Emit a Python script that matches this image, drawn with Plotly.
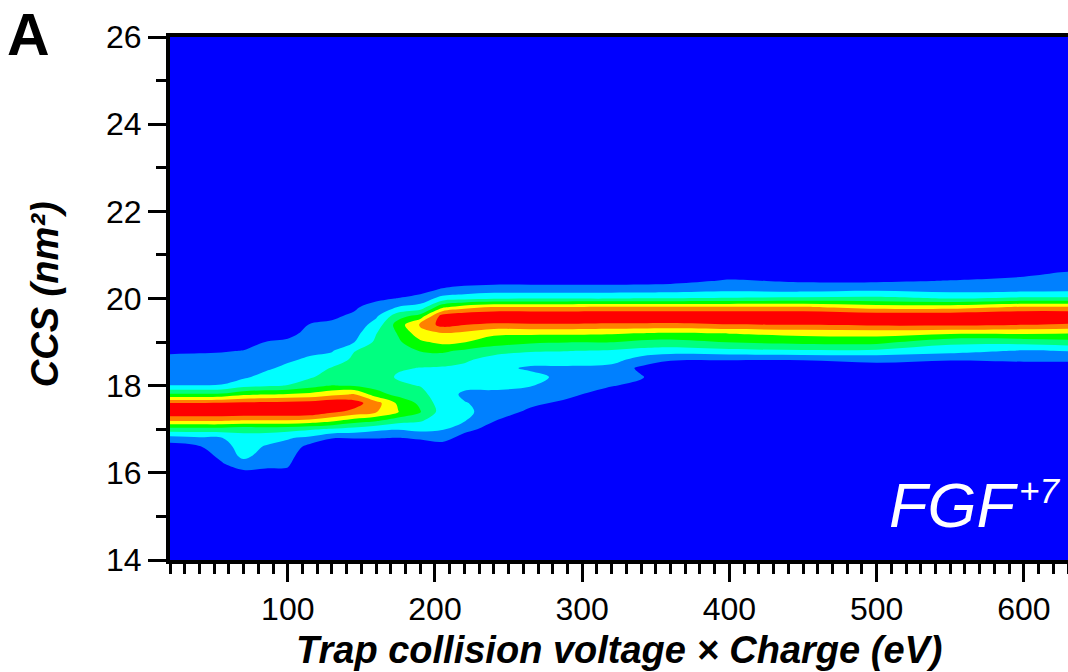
import numpy as np
import plotly.graph_objects as go

# Trap collision voltage x charge (eV) at each measured column
energy_ev = [20, 40, 55, 70, 85, 100, 115, 130, 145, 160, 175, 190, 205,
             220, 240, 265, 290, 320, 340, 360, 400, 450, 500, 550, 600, 630]
# CCS grid (nm^2)
ccs_nm2 = [15.8, 16.0, 16.2, 16.4, 16.6, 16.8, 17.0, 17.2, 17.4, 17.6, 17.8,
           18.0, 18.2, 18.4, 18.6, 18.8, 19.0, 19.2, 19.4, 19.6, 19.8, 20.0,
           20.2, 20.4, 20.6, 20.8, 21.0]

# normalised intensity profiles (one per energy column, bottom -> top in CCS)
int_020 = [0, 0, 0.01, 0.02, 0.06, 0.203, 0.446, 0.766, 0.99, 0.882, 0.521, 0.252, 0.216, 0.193, 0.149, 0.11, 0.08, 0.05, 0.03, 0.02, 0.01, 0.01, 0, 0, 0, 0, 0]
int_040 = [0, 0.01, 0.02, 0.06, 0.115, 0.23, 0.446, 0.766, 0.99, 0.882, 0.521, 0.252, 0.216, 0.193, 0.15, 0.115, 0.08, 0.05, 0.03, 0.02, 0.01, 0.01, 0, 0, 0, 0, 0]
int_055 = [0.02, 0.06, 0.11, 0.16, 0.2, 0.245, 0.446, 0.766, 0.99, 0.885, 0.525, 0.255, 0.218, 0.195, 0.155, 0.118, 0.085, 0.05, 0.03, 0.02, 0.01, 0.01, 0, 0, 0, 0, 0]
int_070 = [0.04, 0.09, 0.2, 0.285, 0.3, 0.32, 0.42, 0.74, 0.99, 0.9, 0.6, 0.33, 0.23, 0.2, 0.16, 0.127, 0.09, 0.06, 0.04, 0.03, 0.02, 0.01, 0, 0, 0, 0, 0]
int_085 = [0.04, 0.1, 0.15, 0.2, 0.24, 0.3, 0.43, 0.74, 0.99, 0.91, 0.62, 0.36, 0.29, 0.23, 0.19, 0.16, 0.127, 0.08, 0.05, 0.03, 0.02, 0.01, 0, 0, 0, 0, 0]
int_100 = [0.04, 0.1, 0.14, 0.17, 0.21, 0.26, 0.42, 0.74, 0.99, 0.92, 0.64, 0.38, 0.31, 0.28, 0.23, 0.18, 0.14, 0.1, 0.06, 0.04, 0.02, 0.01, 0, 0, 0, 0, 0]
int_115 = [0, 0.01, 0.02, 0.04, 0.08, 0.22, 0.39, 0.72, 0.98, 0.93, 0.66, 0.45, 0.36, 0.31, 0.27, 0.22, 0.18, 0.15, 0.13, 0.08, 0.04, 0.02, 0.01, 0, 0, 0, 0]
int_130 = [0, 0, 0.01, 0.02, 0.05, 0.13, 0.36, 0.66, 0.9, 0.97, 0.72, 0.505, 0.43, 0.385, 0.3, 0.24, 0.2, 0.17, 0.14, 0.11, 0.06, 0.03, 0.01, 0, 0, 0, 0]
int_145 = [0, 0, 0.01, 0.02, 0.05, 0.13, 0.33, 0.57, 0.84, 0.93, 0.76, 0.49, 0.45, 0.42, 0.4, 0.37, 0.245, 0.2, 0.17, 0.14, 0.11, 0.05, 0.02, 0.01, 0, 0, 0]
int_160 = [0, 0, 0.01, 0.02, 0.05, 0.13, 0.28, 0.52, 0.76, 0.8, 0.56, 0.45, 0.44, 0.44, 0.43, 0.42, 0.4, 0.37, 0.3, 0.23, 0.17, 0.1, 0.05, 0.02, 0.01, 0, 0]
int_175 = [0, 0, 0.01, 0.02, 0.05, 0.12, 0.26, 0.43, 0.63, 0.6, 0.46, 0.4, 0.36, 0.39, 0.42, 0.45, 0.48, 0.51, 0.56, 0.45, 0.255, 0.13, 0.06, 0.02, 0.01, 0, 0]
int_190 = [0, 0, 0.01, 0.02, 0.06, 0.14, 0.29, 0.39, 0.51, 0.47, 0.42, 0.37, 0.35, 0.37, 0.44, 0.505, 0.6, 0.7, 0.77, 0.55, 0.3, 0.17, 0.08, 0.03, 0.01, 0, 0]
int_205 = [0, 0, 0.01, 0.03, 0.07, 0.17, 0.26, 0.3, 0.32, 0.31, 0.29, 0.3, 0.33, 0.36, 0.44, 0.52, 0.66, 0.74, 0.92, 0.93, 0.6, 0.3, 0.14, 0.05, 0.02, 0.01, 0]
int_220 = [0, 0, 0, 0.01, 0.02, 0.08, 0.16, 0.26, 0.28, 0.255, 0.235, 0.27, 0.3, 0.34, 0.4, 0.48, 0.63, 0.72, 0.88, 0.98, 0.7, 0.33, 0.17, 0.07, 0.02, 0.01, 0]
int_240 = [0, 0, 0, 0.01, 0.02, 0.04, 0.08, 0.13, 0.19, 0.22, 0.24, 0.26, 0.27, 0.27, 0.32, 0.43, 0.56, 0.65, 0.85, 1.0, 0.76, 0.36, 0.19, 0.08, 0.03, 0.01, 0]
int_265 = [0, 0, 0, 0, 0, 0.01, 0.03, 0.05, 0.1, 0.15, 0.2, 0.255, 0.27, 0.24, 0.28, 0.39, 0.52, 0.65, 0.86, 1.0, 0.76, 0.37, 0.19, 0.08, 0.03, 0.01, 0]
int_290 = [0, 0, 0, 0, 0, 0.01, 0.02, 0.03, 0.05, 0.1, 0.15, 0.2, 0.23, 0.24, 0.28, 0.38, 0.505, 0.65, 0.86, 1.0, 0.76, 0.37, 0.19, 0.08, 0.03, 0.01, 0]
int_320 = [0, 0, 0, 0, 0, 0, 0.01, 0.01, 0.02, 0.03, 0.07, 0.13, 0.17, 0.21, 0.3, 0.36, 0.505, 0.64, 0.85, 1.0, 0.77, 0.37, 0.19, 0.08, 0.03, 0.01, 0]
int_340 = [0, 0, 0, 0, 0, 0, 0, 0.01, 0.02, 0.03, 0.05, 0.1, 0.135, 0.1, 0.2, 0.33, 0.47, 0.62, 0.85, 1.0, 0.77, 0.38, 0.19, 0.085, 0.035, 0.015, 0]
int_360 = [0, 0, 0, 0, 0, 0, 0, 0.01, 0.01, 0.01, 0.02, 0.03, 0.04, 0.07, 0.134, 0.317, 0.455, 0.607, 0.847, 1.0, 0.768, 0.38, 0.197, 0.09, 0.04, 0.02, 0.01]
int_400 = [0, 0, 0, 0, 0, 0, 0, 0.01, 0.01, 0.01, 0.02, 0.03, 0.04, 0.07, 0.13, 0.34, 0.505, 0.63, 0.87, 1.0, 0.768, 0.39, 0.22, 0.14, 0.06, 0.02, 0.01]
int_450 = [0, 0, 0, 0, 0, 0, 0, 0.01, 0.01, 0.01, 0.02, 0.03, 0.04, 0.07, 0.13, 0.36, 0.54, 0.66, 0.88, 1.0, 0.768, 0.4, 0.21, 0.11, 0.05, 0.02, 0.01]
int_500 = [0, 0, 0, 0, 0, 0, 0, 0.01, 0.01, 0.01, 0.02, 0.03, 0.04, 0.08, 0.15, 0.35, 0.54, 0.67, 0.9, 0.98, 0.7, 0.41, 0.23, 0.11, 0.05, 0.02, 0.01]
int_550 = [0, 0, 0, 0, 0, 0, 0, 0.01, 0.01, 0.01, 0.02, 0.03, 0.04, 0.08, 0.13, 0.3, 0.41, 0.64, 0.9, 0.98, 0.7, 0.37, 0.2, 0.13, 0.07, 0.03, 0.01]
int_600 = [0, 0, 0, 0, 0, 0, 0, 0.01, 0.01, 0.01, 0.02, 0.03, 0.04, 0.08, 0.14, 0.24, 0.42, 0.64, 0.88, 1.0, 0.77, 0.4, 0.21, 0.15, 0.1, 0.04, 0.01]
int_630 = [0, 0, 0, 0, 0, 0, 0, 0.01, 0.01, 0.01, 0.02, 0.03, 0.04, 0.08, 0.14, 0.255, 0.45, 0.63, 0.86, 1.0, 0.77, 0.4, 0.22, 0.16, 0.13, 0.05, 0.01]

x_ticks = [100, 200, 300, 400, 500, 600]
y_ticks = [14, 16, 18, 20, 22, 24, 26]
band_colors = ["#0000FF", "#0080FF", "#00FFFF", "#00FF80",
               "#00FF00", "#FFFF00", "#FF8000", "#FF0000"]

columns = [int_020, int_040, int_055, int_070, int_085, int_100, int_115,
           int_130, int_145, int_160, int_175, int_190, int_205, int_220,
           int_240, int_265, int_290, int_320, int_340, int_360, int_400,
           int_450, int_500, int_550, int_600, int_630]
z = np.array(columns).T  # rows follow ccs_nm2, columns follow energy_ev

n = len(band_colors)
colorscale = []
for k, c in enumerate(band_colors):
    lo = max(0.0, (k - 0.5) / (n - 1))
    hi = min(1.0, (k + 0.5) / (n - 1))
    colorscale.append([lo, c])
    colorscale.append([hi, c])

FONT = "Liberation Sans, Arial, sans-serif"

fig = go.Figure()
fig.add_trace(go.Contour(
    x=energy_ev, y=ccs_nm2, z=z,
    autocontour=False,
    contours=dict(start=0.125, end=0.875, size=0.125,
                  coloring="fill", showlines=False),
    colorscale=colorscale, showscale=False,
    line=dict(width=0, smoothing=1),
    hoverinfo="skip",
))

axis_common = dict(
    ticks="outside", ticklen=18, tickwidth=3, tickcolor="black",
    showline=True, linewidth=4, linecolor="black",
    showgrid=False, zeroline=False,
    tickfont=dict(size=32, family=FONT, color="black"),
)

fig.update_layout(
    template="none",
    width=1068, height=672,
    margin=dict(l=170, r=0, t=37, b=112),
    paper_bgcolor="white",
    plot_bgcolor="#0000FF",
    showlegend=False,
    xaxis=dict(range=[20, 630], tickmode="array", tickvals=x_ticks,
               mirror=True,
               minor=dict(ticks="outside", ticklen=10, tickwidth=3,
                          tickcolor="black", dtick=10, tick0=0,
                          showgrid=False),
               **axis_common),
    yaxis=dict(range=[14, 26], tickmode="array", tickvals=y_ticks,
               minor=dict(ticks="outside", ticklen=10, tickwidth=3,
                          tickcolor="black", dtick=1, tick0=0,
                          showgrid=False),
               **axis_common),
    annotations=[
        dict(text="<b><i>Trap collision voltage × Charge (eV)</i></b>",
             xref="paper", yref="paper", x=0.5, y=-0.172,
             xanchor="center", yanchor="middle", showarrow=False,
             font=dict(size=38, family=FONT, color="black")),
        dict(text="<b><i>CCS (nm²)</i></b>",
             xref="paper", yref="paper", x=-0.139, y=0.5086,
             xanchor="center", yanchor="middle", showarrow=False,
             textangle=-90,
             font=dict(size=38, family=FONT, color="black")),
        dict(text="<b>A</b>",
             xref="paper", yref="paper", x=-0.184, y=1.0705,
             xanchor="left", yanchor="top", showarrow=False,
             font=dict(size=59, family=FONT, color="black")),
        dict(text="<i>FGF</i>",
             xref="paper", yref="paper", x=0.7984, y=0.106,
             xanchor="left", yanchor="middle", showarrow=False,
             font=dict(size=63, family=FONT, color="white")),
        dict(text="<i>+7</i>",
             xref="paper", yref="paper", x=0.9432, y=0.1329,
             xanchor="left", yanchor="middle", showarrow=False,
             font=dict(size=35, family=FONT, color="white")),
    ],
)

fig.write_html(
    "out.html",
    config={"displayModeBar": False},
    post_script="document.body.style.margin='0';document.body.style.overflow='hidden';",
)
